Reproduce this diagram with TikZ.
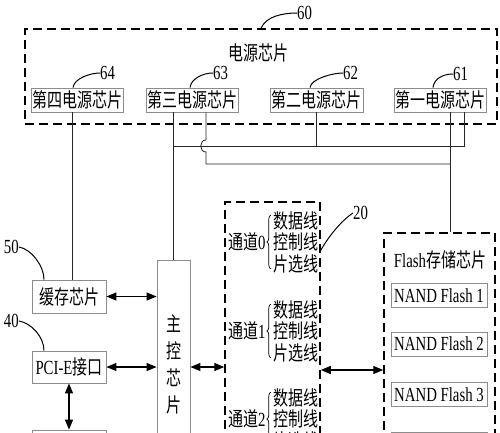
\documentclass[tikz,border=0pt]{standalone}
\usepackage{fontspec}
\setmainfont[FakeStretch=0.74]{Liberation Serif}
\newfontfamily\cjk[FakeStretch=0.75]{Noto Sans CJK SC}
\newcommand{\zh}[1]{{\cjk #1}}
\usetikzlibrary{arrows.meta,positioning,calc,decorations.pathreplacing}

\begin{document}
\begin{tikzpicture}[
    x=1pt, y=-1pt,
    font=\fontsize{20}{21.5}\selectfont,
    chip/.style={rectangle, draw=black!45, line width=0.8pt, inner sep=1pt, minimum height=24pt, text centered},
    dashbox/.style={rectangle, draw, line width=1.5pt, dash pattern=on 9pt off 5pt},
    wire/.style={draw=black!85, line width=0.8pt},
    lbl/.style={inner sep=0pt},
    lead/.style={line width=1pt},
    biarrow/.style={line width=1.3pt, {Triangle[length=10pt,width=8pt]}-{Triangle[length=10pt,width=8pt]}},
    brace/.style={decorate, decoration={brace, amplitude=4pt}, line width=0.7pt}
]
    \useasboundingbox (0,0) rectangle (500,433);

    \node [dashbox, minimum width=472pt, minimum height=95pt] (pwr) at (261,76.5) {};
    \node (pwrtitle) at (258,53) {\zh{电源芯片}};
    \node [chip, minimum width=91pt] (p64) at (77.5,100) {\zh{第四电源芯片}};
    \node [chip, minimum width=91pt] (p63) at (192.5,100) {\zh{第三电源芯片}};
    \node [chip, minimum width=93pt] (p62) at (316.5,100) {\zh{第二电源芯片}};
    \node [chip, minimum width=92pt] (p61) at (440,100) {\zh{第一电源芯片}};

    \node [lbl, anchor=west] (n60) at (297,13) {60};
    \node [lbl, anchor=west] (n64) at (100,73) {64};
    \node [lbl, anchor=west] (n63) at (213,73) {63};
    \node [lbl, anchor=west] (n62) at (343,73) {62};
    \node [lbl, anchor=west] (n61) at (453,74) {61};
    \draw [lead] (pwr.north) .. controls +(5,-12) and +(-14,0) .. (n60.west);
    \draw [lead] ([xshift=-4.5pt]p64.north) .. controls +(1,-9) and +(-10,0) .. (n64.west);
    \draw [lead] ([xshift=-2.5pt]p63.north) .. controls +(1,-9) and +(-10,0) .. (n63.west);
    \draw [lead] ([xshift=-6.5pt]p62.north) .. controls +(1,-9) and +(-10,0) .. (n62.west);
    \draw [lead] ([xshift=-7pt]p61.north) .. controls +(1,-9) and +(-10,0) .. (n61.west);

    \node [chip, minimum width=74pt, minimum height=33pt] (cache) at (69,296.5) {\zh{缓存芯片}};
    \node [chip, minimum width=74pt, minimum height=32pt] (pcie) at (69,367) {PCI-E\zh{接口}};
    \node [chip, minimum width=74pt, minimum height=34pt] (host) at (69,447) {};
    \node [chip, minimum width=33pt, minimum height=190pt] (ctrl) at (173.5,355) {};
    \node [align=center, font=\fontsize{20}{27}\selectfont\cjk] (ctrltext) at (173.5,364) {主\\控\\芯\\片};

    \node [lbl, anchor=east] (n50) at (19,247) {50};
    \node [lbl, anchor=east] (n40) at (19,321) {40};
    \draw [lead] (n50.east) .. controls +(12,2) and +(0,-14) .. ([xshift=-25pt]cache.north);
    \draw [lead] (n40.east) .. controls +(12,2) and +(0,-14) .. ([xshift=-25pt]pcie.north);

    \node [dashbox, minimum width=95pt, minimum height=250pt] (chbox) at (272.5,327) {};
    \foreach \i/\y in {0/242,1/331,2/419} {
        \node [lbl, anchor=west] (ch\i) at (228,\y) {\zh{通道}\i};
        \node [lbl, align=center, font=\fontsize{20}{21.5}\selectfont\cjk] (sig\i) at (295.5,\y) {数据线\\控制线\\片选线};
        \draw [brace] ([xshift=-2pt,yshift=4pt]sig\i.south west) -- ([xshift=-2pt,yshift=-4pt]sig\i.north west);
    }
    \node [lbl, anchor=west] (n20) at (353,213) {20};
    \draw [lead] ([yshift=-49pt]chbox.north east) .. controls +(8,-14) and +(-12,8) .. (n20.west);

    \node [dashbox, minimum width=111pt, minimum height=220pt] (flash) at (439.5,343) {};
    \node (flashtitle) at (440,260) {Flash\zh{存储芯片}};
    \foreach \i/\y in {1/295.5,2/344,3/394.5,4/444}
        \node [chip, minimum width=96pt] (nand\i) at (439,\y) {NAND Flash \i};

    \draw [biarrow] (cache.east) -- (cache.east -| ctrl.west);
    \draw [biarrow] (pcie.east) -- (pcie.east -| ctrl.west);
    \draw [biarrow] (ctrl.east |- pcie.east) -- (chbox.west |- pcie.east);
    \coordinate (mid) at (0,370);
    \draw [biarrow] (chbox.east |- mid) -- (flash.west |- mid);
    \draw [biarrow] (pcie.south) -- (host.north);

    \coordinate (tap64) at ([xshift=-5.5pt]p64.south);
    \coordinate (tap63) at ([xshift=13.5pt]p63.south);
    \coordinate (tap61a) at ([xshift=10pt]p61.south);
    \coordinate (tap61b) at ([xshift=24pt]p61.south);
    \coordinate (busA) at (0,146);
    \coordinate (busB) at (0,164);
    \draw [wire] (tap64) -- (tap64 |- cache.north);
    \draw [wire] (ctrl.north |- p63.south) -- (ctrl.north);
    \draw [wire] (ctrl.north |- busA) -- (tap61b |- busA) -- (tap61b);
    \draw [wire] (p62.south) -- (p62.south |- busA);
    \draw [wire] (tap61a) -- (tap61a |- flash.north);
    \draw [wire] (tap63) -- ($(tap63 |- busA)+(0,-6)$) .. controls +(-7,0) and +(-7,0) .. ($(tap63 |- busA)+(0,6)$) -- (tap63 |- busB) -- (tap61a |- busB);
\end{tikzpicture}
\end{document}
